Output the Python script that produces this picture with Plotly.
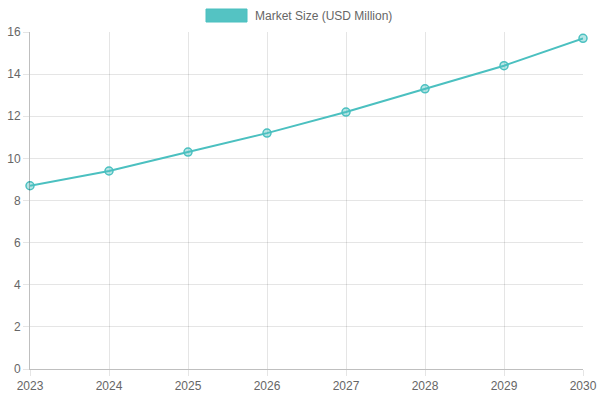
import plotly.graph_objects as go

years = [2023, 2024, 2025, 2026, 2027, 2028, 2029, 2030]
market_size = [8.7, 9.4, 10.3, 11.2, 12.2, 13.3, 14.4, 15.7]
series_name = "Market Size (USD Million)"
teal = "rgb(75,192,192)"

fig = go.Figure()
fig.add_trace(go.Scatter(
    x=years, y=market_size, mode="lines+markers", name=series_name,
    line=dict(color=teal, width=2),
    marker=dict(size=8, color="rgba(75,192,192,0.4)", line=dict(color=teal, width=1.5)),
    cliponaxis=False, showlegend=False,
))

grid = "rgba(0,0,0,0.1)"
fig.update_layout(
    width=600, height=400,
    margin=dict(l=30, r=17, t=32, b=31),
    paper_bgcolor="white", plot_bgcolor="white",
    font=dict(family="Liberation Sans, Arial, sans-serif", size=12, color="#666"),
    xaxis=dict(range=[2023, 2030], tickvals=years, ticktext=[str(y) for y in years],
               showgrid=True, gridcolor=grid, gridwidth=1, automargin=False,
               showline=True, linecolor="rgba(0,0,0,0.25)", linewidth=1,
               ticks="outside", ticklen=6, tickcolor=grid, zeroline=False),
    yaxis=dict(range=[0, 16], dtick=2, showgrid=True, gridcolor=grid, gridwidth=1,
               automargin=False,
               showline=True, linecolor="rgba(0,0,0,0.25)", linewidth=1,
               ticks="outside", ticklen=6, tickcolor=grid, zeroline=False),
    shapes=[dict(type="rect", xref="paper", yref="paper",
                 x0=(206 - 30) / 553, x1=(247 - 30) / 553,
                 y0=(369 - 22) / 337, y1=(369 - 9) / 337,
                 fillcolor="rgba(75,192,192,0.95)", line=dict(color=teal, width=1))],
    annotations=[dict(text=series_name, xref="paper", yref="paper",
                      x=(253 - 30) / 553, y=(369 - 15.5) / 337,
                      xanchor="left", yanchor="middle", showarrow=False,
                      font=dict(size=12, color="#666"))],
)
fig.write_html("out.html")
